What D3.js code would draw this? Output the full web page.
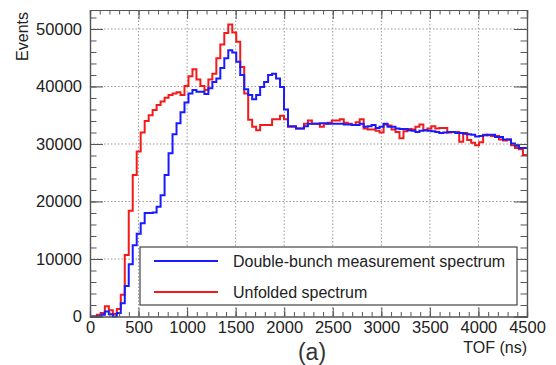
<!DOCTYPE html>
<html><head><meta charset="utf-8">
<script src="https://cdn.jsdelivr.net/npm/d3@7"></script>
<style>
body{margin:0;background:#fff;}
text{font-family:"Liberation Sans",Arial,Helvetica,sans-serif;}
</style></head>
<body>
<svg id="chart" width="556" height="365"></svg>
<script>
// ---- data ----
const tofStart = 30;      // ns, left edge of first bin
const binWidth = 41;      // ns
const xTicks = [0,500,1000,1500,2000,2500,3000,3500,4000,4500];
const yTicks = [0,10000,20000,30000,40000,50000];
const seriesNames = ["Double-bunch measurement spectrum","Unfolded spectrum"];
const unfolded = [0,300,600,1800,1100,450,1300,3800,10700,18400,24600,28700,32000,34000,35000,35900,36800,37400,38050,38500,38800,39000,38500,40100,41800,43000,41200,40100,39400,41200,42200,44900,47300,49300,50800,49400,47800,43400,38800,34200,33000,32400,33300,33300,33300,34300,34300,34900,34300,33000,33000,32700,32700,33500,34100,33500,33500,33000,33500,33700,34100,34100,34300,33700,33500,33300,33800,34300,32700,32500,32500,32300,32000,33400,33200,32500,32100,31000,32200,32600,32500,33000,33400,32400,32700,33100,32700,32800,32800,32000,32100,32100,30400,31900,30700,30200,29800,30300,31600,31500,31400,31400,30800,30600,30800,29800,29300,29100,28100];
const doubleBunch = [0,0,300,850,400,0,600,2300,5300,9100,12400,14400,16200,18000,18000,18100,19100,21100,24600,28400,31700,33600,35500,37200,38800,39400,39100,39100,38700,39700,40800,41400,43200,44900,46300,45900,44300,42000,39500,38500,37800,38500,39900,40800,42000,42200,41400,39900,36000,33100,33100,32700,32700,33100,33500,33500,33500,33600,33600,33500,33500,33500,33500,33400,33400,33300,33300,33500,33000,33100,33300,32800,33000,33500,33000,33000,32700,32600,32600,32400,32300,32100,32300,32400,32300,32200,32100,31900,32000,32100,32100,31900,31900,31800,31700,31600,31300,31400,31500,31600,31600,31200,31200,30800,30800,30100,29700,29300,29300];

// ---- layout ----
const L = 90, R = 527, T = 10, B = 316.5;
const svg = d3.select("#chart");
const x = d3.scaleLinear().domain([0,4500]).range([L,R]);
const y = d3.scaleLinear().domain([0,53300]).range([B,T]);
const frameCol = "#555";

// grid
const g = svg.append("g");
g.selectAll(".gx").data(xTicks.slice(1,-1)).join("line")
  .attr("x1",d=>x(d)).attr("x2",d=>x(d)).attr("y1",T).attr("y2",B)
  .attr("stroke","#999").attr("stroke-width",1).attr("stroke-dasharray","1.5,2");
g.selectAll(".gy").data(yTicks.slice(1)).join("line")
  .attr("x1",L).attr("x2",R).attr("y1",d=>y(d)).attr("y2",d=>y(d))
  .attr("stroke","#999").attr("stroke-width",1).attr("stroke-dasharray","1.5,2");

// histograms
function stepPath(vals){
  const pts = [[x.domain()[0], 0]];
  vals.forEach((v,i)=>{
    const a = Math.max(tofStart + i*binWidth, x.domain()[0]);
    const b = Math.min(tofStart + (i+1)*binWidth, x.domain()[1]);
    pts.push([a,v]); pts.push([b,v]);
  });
  return d3.line().x(d=>x(d[0])).y(d=>y(d[1]))(pts);
}
svg.append("path").attr("d",stepPath(unfolded)).attr("fill","none")
  .attr("stroke","#f21a1a").attr("stroke-width",2);
svg.append("path").attr("d",stepPath(doubleBunch)).attr("fill","none")
  .attr("stroke","#1a1aff").attr("stroke-width",2);

// axes
const yMinor = d3.range(0,53300,2000);
const xMinor = d3.range(0,4501,100);
function styleAxis(sel){
  sel.select(".domain").attr("stroke",frameCol);
  sel.selectAll(".tick line").attr("stroke",frameCol);
  sel.selectAll("text").attr("fill","#222").style("font-size","16.5px");
}
svg.append("g").attr("transform",`translate(${L},0)`)
  .call(d3.axisLeft(y).tickValues(yMinor).tickSize(-6.5).tickFormat("")).call(styleAxis);
svg.append("g").attr("transform",`translate(${L},0)`)
  .call(d3.axisLeft(y).tickValues(yTicks).tickSize(-13).tickPadding(8).tickFormat(d3.format("d"))).call(styleAxis);
svg.append("g").attr("transform",`translate(${R},0)`)
  .call(d3.axisRight(y).tickValues(yMinor).tickSize(-6.5).tickFormat("")).call(styleAxis);
svg.append("g").attr("transform",`translate(${R},0)`)
  .call(d3.axisRight(y).tickValues(yTicks).tickSize(-13).tickFormat("")).call(styleAxis);
svg.append("g").attr("transform",`translate(0,${B})`)
  .call(d3.axisBottom(x).tickValues(xMinor).tickSize(-4.5).tickFormat("")).call(styleAxis);
svg.append("g").attr("transform",`translate(0,${B})`)
  .call(d3.axisBottom(x).tickValues(xTicks).tickSize(-9).tickPadding(5).tickFormat(d3.format("d"))).call(styleAxis);
svg.append("g").attr("transform",`translate(0,${T})`)
  .call(d3.axisTop(x).tickValues(xMinor).tickSize(-4.5).tickFormat("")).call(styleAxis);
svg.append("g").attr("transform",`translate(0,${T})`)
  .call(d3.axisTop(x).tickValues(xTicks).tickSize(-9).tickFormat("")).call(styleAxis);
svg.selectAll(".domain").attr("stroke-width",1.2);

// axis titles
svg.append("text").attr("x",R).attr("y",353).attr("text-anchor","end")
  .attr("fill","#222").style("font-size","16px").text("TOF (ns)");
svg.append("text").attr("transform",`translate(28,${T+2}) rotate(-90)`).attr("text-anchor","end")
  .attr("fill","#222").style("font-size","16px").text("Events");
svg.append("text").attr("x",312).attr("y",360).attr("text-anchor","middle")
  .attr("fill","#333").style("font-size","23px").text("(a)");

// legend
const lg = svg.append("g");
lg.append("rect").attr("x",140).attr("y",247).attr("width",377).attr("height",58)
  .attr("fill","#fff").attr("stroke","#444").attr("stroke-width",1.2);
const legCols = ["#1a1aff","#f21a1a"];
seriesNames.forEach((n,i)=>{
  const yy = 261 + i*31;
  lg.append("line").attr("x1",154).attr("x2",218).attr("y1",yy).attr("y2",yy)
    .attr("stroke",legCols[i]).attr("stroke-width",2);
  lg.append("text").attr("x",233).attr("y",yy+6).attr("fill","#222")
    .style("font-size","16px").text(n);
});
</script>
</body></html>
